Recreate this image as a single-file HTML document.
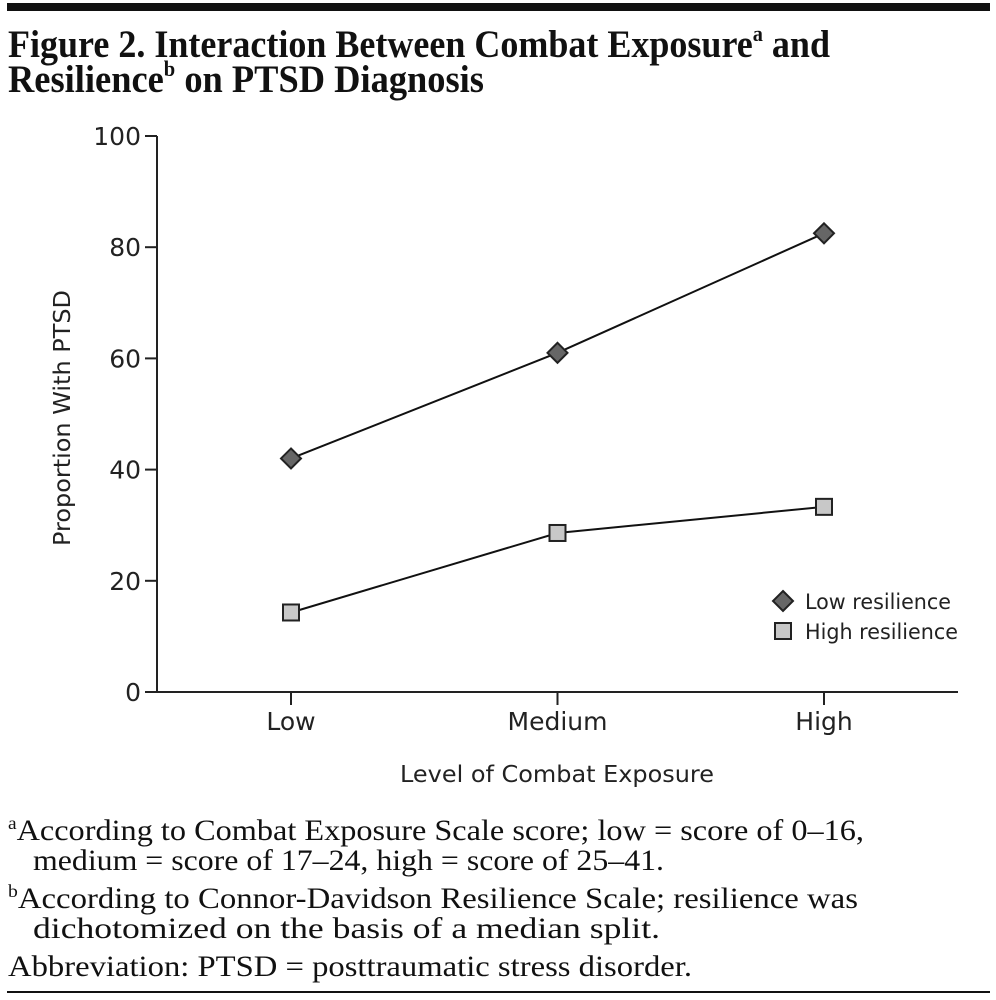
<!DOCTYPE html>
<html><head><meta charset="utf-8"><style>
html,body{margin:0;padding:0;background:#fff;}
svg{display:block;}
.serif{font-family:"Liberation Serif",serif;fill:#111;}
.sans{font-family:"DejaVu Sans","Liberation Sans",sans-serif;fill:#222;}
</style></head><body>
<svg id="chart" width="996" height="1000" viewBox="0 0 996 1000">
<rect x="7" y="3" width="983" height="8" fill="#111"/>
<text class="serif" x="8" y="57" font-size="39" font-weight="bold" textLength="822" lengthAdjust="spacingAndGlyphs">Figure 2. Interaction Between Combat Exposure<tspan font-size="22" dy="-16">a</tspan><tspan dy="16"> and</tspan></text>
<text class="serif" x="8" y="92" font-size="39" font-weight="bold" textLength="476" lengthAdjust="spacingAndGlyphs">Resilience<tspan font-size="22" dy="-16">b</tspan><tspan dy="16"> on PTSD Diagnosis</tspan></text>
<g id="axes"></g>
<g id="series"></g>
<g>
<path d="M783 591 L793 601 L783 611 L773 601 Z" fill="#666" stroke="#222" stroke-width="2"/>
<text class="sans" x="805" y="609" font-size="21" textLength="146" lengthAdjust="spacingAndGlyphs">Low resilience</text>
<rect x="775" y="623" width="16" height="16" fill="#c8c8c8" stroke="#222" stroke-width="2"/>
<text class="sans" x="805" y="639" font-size="21" textLength="153" lengthAdjust="spacingAndGlyphs">High resilience</text>
</g>
<text class="sans" x="557" y="782" font-size="23" text-anchor="middle" textLength="314" lengthAdjust="spacingAndGlyphs">Level of Combat Exposure</text>
<text class="sans" transform="translate(70,418) rotate(-90)" font-size="23" text-anchor="middle" textLength="256" lengthAdjust="spacingAndGlyphs">Proportion With PTSD</text>
<g>
<text class="serif" x="8" y="840" font-size="30" textLength="856" lengthAdjust="spacingAndGlyphs"><tspan font-size="18" dy="-11">a</tspan><tspan dy="11">According to Combat Exposure Scale score; low = score of 0–16,</tspan></text>
<text class="serif" x="33" y="870" font-size="30" textLength="631" lengthAdjust="spacingAndGlyphs">medium = score of 17–24, high = score of 25–41.</text>
<text class="serif" x="8" y="908" font-size="30" textLength="850" lengthAdjust="spacingAndGlyphs"><tspan font-size="18" dy="-11">b</tspan><tspan dy="11">According to Connor-Davidson Resilience Scale; resilience was</tspan></text>
<text class="serif" x="33" y="938" font-size="30" textLength="627" lengthAdjust="spacingAndGlyphs">dichotomized on the basis of a median split.</text>
<text class="serif" x="8" y="976" font-size="30" textLength="684" lengthAdjust="spacingAndGlyphs">Abbreviation: PTSD = posttraumatic stress disorder.</text>
</g>
<rect x="7" y="991" width="983" height="2" fill="#111"/>
</svg>
<script>
const categories = ["Low", "Medium", "High"];
const lowResilience = [42, 61, 82.5];
const highResilience = [14.3, 28.6, 33.3];
const yTicks = [0, 20, 40, 60, 80, 100];

const NS = "http://www.w3.org/2000/svg";
const X0 = 157, X1 = 958, Y0 = 692, Y1 = 136;
const catX = [291, 557, 824];
function xPos(i){ return catX[0] + i * (catX[2] - catX[0]) / (categories.length - 1); }
function yPos(v){ return Y0 - (v / 100) * (Y0 - Y1); }
function mk(tag, attrs, parent){
  const e = document.createElementNS(NS, tag);
  for (const k in attrs) e.setAttribute(k, attrs[k]);
  parent.appendChild(e);
  return e;
}
const axes = document.getElementById('axes');
const series = document.getElementById('series');
let el = mk('line', {x1:X0, y1:Y1, x2:X0, y2:Y0, stroke:'#222', 'stroke-width':2}, axes);


el = mk('line', {x1:X0-12, y1:Y0, x2:X1, y2:Y0, stroke:'#222', 'stroke-width':2}, axes);


yTicks.forEach(v => {
  const y = yPos(v);
  let t = mk('line', {x1:X0-12, y1:y, x2:X0, y2:y, stroke:'#222', 'stroke-width':2}, axes);
  
  
  let l = mk('text', {x:X0-16, y:y+9, 'font-size':25, 'text-anchor':'end', class:'sans'}, axes);
  l.textContent = v;
  
  
});
categories.forEach((c, i) => {
  const x = xPos(i);
  let t = mk('line', {x1:x, y1:Y0, x2:x, y2:Y0+13, stroke:'#222', 'stroke-width':2}, axes);
  
  
  let l = mk('text', {x:x, y:Y0+38, 'font-size':25, 'text-anchor':'middle', class:'sans'}, axes);
  l.textContent = c;
  
  
});
function drawLine(vals, name){
  const pts = vals.map((v, i) => xPos(i) + ',' + yPos(v)).join(' ');
  let p = mk('polyline', {points:pts, fill:'none', stroke:'#111', 'stroke-width':2}, series);
  
  
}
drawLine(lowResilience, 'low-resilience');
drawLine(highResilience, 'high-resilience');
lowResilience.forEach((v, i) => {
  const x = xPos(i), y = yPos(v), r = 10;
  let d = mk('path', {d:`M${x} ${y-r} L${x+r} ${y} L${x} ${y+r} L${x-r} ${y} Z`, fill:'#666', stroke:'#222', 'stroke-width':2}, series);
  
  
});
highResilience.forEach((v, i) => {
  const x = xPos(i), y = yPos(v), s = 16;
  let r = mk('rect', {x:x-s/2, y:y-s/2, width:s, height:s, fill:'#c8c8c8', stroke:'#222', 'stroke-width':2}, series);
  
  
});
</script>
</body></html>
